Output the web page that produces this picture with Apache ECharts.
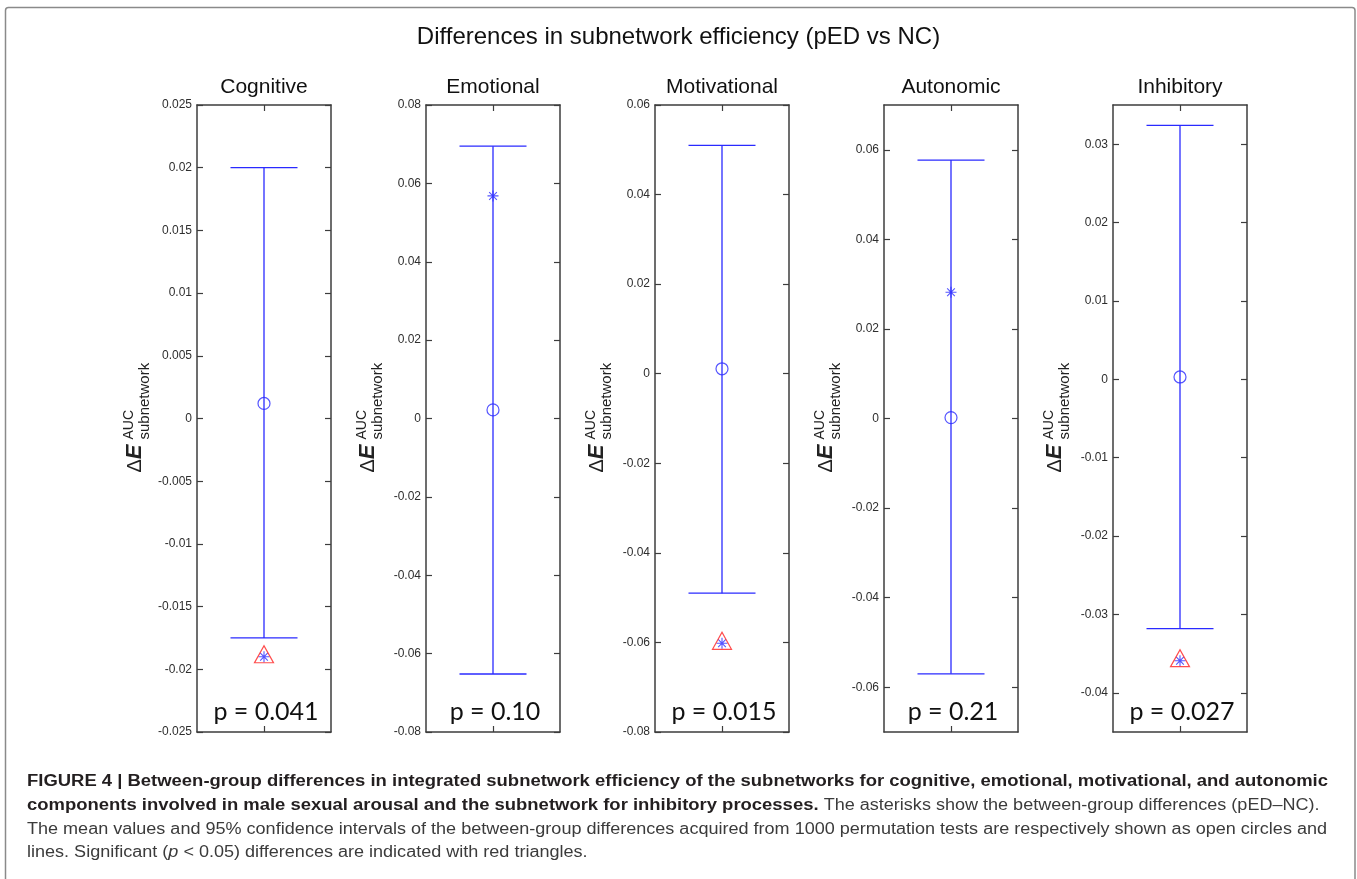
<!DOCTYPE html>
<html>
<head>
<meta charset="utf-8">
<script src="https://cdn.jsdelivr.net/npm/echarts@6/dist/echarts.min.js"></script>
<style>
html,body{margin:0;padding:0;background:#fff;}
#chart{width:1357px;height:879px;}
</style>
</head>
<body>
<div id="chart"></div>
<script>
// ---------- DATA ----------
const categories = ['Cognitive', 'Emotional', 'Motivational', 'Autonomic', 'Inhibitory'];
const ciLower = [-0.0175, -0.0652, -0.0490, -0.0570, -0.0318];
const ciUpper = [0.0200, 0.0695, 0.0510, 0.0577, 0.0324];
const permMean = [0.0012, 0.0022, 0.0011, 0.0002, 0.0003];
const observedDiff = [-0.0190, 0.0568, -0.0602, 0.0282, -0.0359];
const pValues = ['0.041', '0.10', '0.015', '0.21', '0.027'];
const yMin = [-0.025, -0.08, -0.08, -0.07, -0.045];
const yMax = [0.025, 0.08, 0.06, 0.07, 0.035];
const yTicks = [
  [-0.025, -0.02, -0.015, -0.01, -0.005, 0, 0.005, 0.01, 0.015, 0.02, 0.025],
  [-0.08, -0.06, -0.04, -0.02, 0, 0.02, 0.04, 0.06, 0.08],
  [-0.08, -0.06, -0.04, -0.02, 0, 0.02, 0.04, 0.06],
  [-0.06, -0.04, -0.02, 0, 0.02, 0.04, 0.06],
  [-0.04, -0.03, -0.02, -0.01, 0, 0.01, 0.02, 0.03]
];
const mainTitle = 'Differences in subnetwork efficiency (pED vs NC)';
const captionBold1 = 'FIGURE 4 | Between-group differences in integrated subnetwork efficiency of the subnetworks for cognitive, emotional, motivational, and autonomic';
const captionBold2 = 'components involved in male sexual arousal and the subnetwork for inhibitory processes.';
const captionReg2 = 'The asterisks show the between-group differences (pED\u2013NC).';
const captionReg3 = 'The mean values and 95% confidence intervals of the between-group differences acquired from 1000 permutation tests are respectively shown as open circles and';
const captionReg4a = 'lines. Significant (';
const captionItal4 = 'p';
const captionReg4b = ' < 0.05) differences are indicated with red triangles.';

// ---------- LAYOUT / STYLE ----------
const GRID_TOP = 105, GRID_H = 627, GRID_W = 134, GRID_L0 = 197, GRID_STEP = 229;
const LABEL_DX = [-62, -58, -58, -58, -58];
const AXIS_COLOR = '#3d3d3d';
const BLUE = '#2a2aff';
const RED = '#ff2020';
const CAP = 0.5;
const FONT = 'Liberation Sans';

function fmt(v) { return String(Math.round(v * 1e6) / 1e6); }
function measure(text, font) {
  const ctx = document.createElement('canvas').getContext('2d');
  ctx.font = font;
  return ctx.measureText(text).width;
}

const chart = echarts.init(document.getElementById('chart'), null, { renderer: 'canvas' });

const grids = [], xAxes = [], yAxes = [], series = [], titles = [], graphics = [];

titles.push({
  text: mainTitle, left: 'center', top: 25, padding: 0,
  textStyle: { fontFamily: FONT, fontSize: 24, fontWeight: 'normal', color: '#111' }
});

const asteriskPath = 'path://M10,0L10,20M0,10L20,10M3,3L17,17M3,17L17,3';

categories.forEach((name, i) => {
  const left = GRID_L0 + i * GRID_STEP;
  const cx = left + GRID_W / 2;
  grids.push({ left: left, top: GRID_TOP, width: GRID_W, height: GRID_H, containLabel: false });

  const lineStyle = { color: AXIS_COLOR, width: 1.5 };
  const tickStyle = { color: AXIS_COLOR, width: 1.2 };
  xAxes.push({
    type: 'value', gridIndex: i, position: 'bottom', min: -1, max: 1,
    axisLine: { show: true, onZero: false, lineStyle: lineStyle },
    axisTick: { show: true, inside: true, length: 6, customValues: [0], lineStyle: tickStyle },
    axisLabel: { show: false }, splitLine: { show: false }
  });
  xAxes.push({
    type: 'value', gridIndex: i, position: 'top', min: -1, max: 1,
    axisLine: { show: true, onZero: false, lineStyle: lineStyle },
    axisTick: { show: true, inside: true, length: 6, customValues: [0], lineStyle: tickStyle },
    axisLabel: { show: false }, splitLine: { show: false }
  });
  yAxes.push({
    type: 'value', gridIndex: i, position: 'left', min: yMin[i], max: yMax[i],
    axisLine: { show: true, onZero: false, lineStyle: lineStyle },
    axisTick: { show: true, inside: true, length: 6, customValues: yTicks[i], lineStyle: tickStyle },
    axisLabel: {
      show: true, customValues: yTicks[i], formatter: fmt, margin: 5,
      fontFamily: FONT, fontSize: 12, color: '#2e2e2e'
    },
    splitLine: { show: false }
  });
  yAxes.push({
    type: 'value', gridIndex: i, position: 'right', min: yMin[i], max: yMax[i],
    axisLine: { show: true, onZero: false, lineStyle: lineStyle },
    axisTick: { show: true, inside: true, length: 6, customValues: yTicks[i], lineStyle: tickStyle },
    axisLabel: { show: false }, splitLine: { show: false }
  });

  const xi = 2 * i, yi = 2 * i;

  series.push({
    type: 'custom', name: name + ' CI', xAxisIndex: xi, yAxisIndex: yi, silent: true,
    encode: { x: 0, y: [1, 2] },
    data: [[0, ciLower[i], ciUpper[i]]],
    renderItem: function (params, api) {
      const x = api.value(0), lo = api.value(1), hi = api.value(2);
      const pHi = api.coord([x, hi]), pLo = api.coord([x, lo]);
      const a1 = api.coord([x - CAP, hi]), a2 = api.coord([x + CAP, hi]);
      const b1 = api.coord([x - CAP, lo]), b2 = api.coord([x + CAP, lo]);
      const st = { stroke: BLUE, lineWidth: 1.3, fill: null };
      return {
        type: 'group', children: [
          { type: 'line', shape: { x1: pHi[0], y1: pHi[1], x2: pLo[0], y2: pLo[1] }, style: st },
          { type: 'line', shape: { x1: a1[0], y1: a1[1], x2: a2[0], y2: a2[1] }, style: st },
          { type: 'line', shape: { x1: b1[0], y1: b1[1], x2: b2[0], y2: b2[1] }, style: st }
        ]
      };
    }
  });
  series.push({
    type: 'scatter', name: name + ' mean', xAxisIndex: xi, yAxisIndex: yi, silent: true,
    data: [[0, permMean[i]]], symbol: 'circle', symbolSize: 12,
    itemStyle: { color: 'rgba(0,0,0,0)', borderColor: BLUE, borderWidth: 1.2 }
  });
  series.push({
    type: 'scatter', name: name + ' observed', xAxisIndex: xi, yAxisIndex: yi, silent: true,
    data: [[0, observedDiff[i]]], symbol: asteriskPath, symbolSize: 11,
    itemStyle: { color: 'rgba(0,0,0,0)', borderColor: BLUE, borderWidth: 1.1 }
  });
  if (parseFloat(pValues[i]) < 0.05) {
    series.push({
      type: 'scatter', name: name + ' significant', xAxisIndex: xi, yAxisIndex: yi, silent: true,
      data: [[0, observedDiff[i]]], symbol: 'triangle', symbolSize: [19, 17], symbolOffset: [0, -2.5],
      itemStyle: { color: 'rgba(0,0,0,0)', borderColor: RED, borderWidth: 1.2 }
    });
  }

  titles.push({
    text: name, left: cx, top: 77, padding: 0, textAlign: 'center',
    textStyle: { fontFamily: FONT, fontSize: 21, fontWeight: 'normal', color: '#111' }
  });

  graphics.push({
    type: 'text', x: cx + 2, y: GRID_TOP + GRID_H - 20, silent: true,
    style: { text: 'p = ' + pValues[i], fontFamily: 'Lato', fontSize: 25, fill: '#111',
             align: 'center', verticalAlign: 'middle' }
  });

  graphics.push({
    type: 'group', x: left + LABEL_DX[i], y: GRID_TOP + GRID_H / 2, rotation: Math.PI / 2, silent: true,
    children: [
      { type: 'text', x: -54, y: 0, style: {
          text: '{d|\u0394}{e|E}', verticalAlign: 'middle', fill: '#222',
          rich: { d: { fontFamily: FONT, fontSize: 20, fill: '#222' },
                  e: { fontFamily: FONT, fontSize: 22, fontWeight: 'bold', fontStyle: 'italic', fill: '#222' } } } },
      { type: 'text', x: -21, y: -6, style: { text: 'AUC', fontFamily: FONT, fontSize: 14, fill: '#222', verticalAlign: 'middle' } },
      { type: 'text', x: -21, y: 10, style: { text: 'subnetwork', fontFamily: FONT, fontSize: 15, fill: '#222', verticalAlign: 'middle' } }
    ]
  });
});

graphics.push({
  type: 'rect', silent: true, z: -1,
  shape: { x: 5.5, y: 7.5, width: 1349.5, height: 900, r: 3 },
  style: { fill: null, stroke: '#8a8a8a', lineWidth: 1.5 }
});

const CAP_X = 27, CAP_FS = 16;
const boldFont = 'bold ' + CAP_FS + 'px "' + FONT + '"';
const regFont = CAP_FS + 'px "' + FONT + '"';
const itFont = 'italic ' + CAP_FS + 'px "' + FONT + '"';
const sxB = 1301 / measure(captionBold1, boldFont);
const sxR = 1300 / measure(captionReg3, regFont);
const BOLD_COL = '#231f20', REG_COL = '#3b3b3b';
function capText(text, x, y, weight, style, sx, color) {
  graphics.push({
    type: 'text', x: x, y: y, scaleX: sx, silent: true,
    style: { text: text, fontFamily: FONT, fontSize: CAP_FS, fontWeight: weight, fontStyle: style,
             fill: color, align: 'left', verticalAlign: 'middle' }
  });
}
const LY = [782, 806, 830, 853];
capText(captionBold1, CAP_X, LY[0], 'bold', 'normal', sxB, BOLD_COL);
capText(captionBold2, CAP_X, LY[1], 'bold', 'normal', sxB, BOLD_COL);
const b2w = measure(captionBold2 + ' ', boldFont) * sxB;
capText(captionReg2, CAP_X + b2w, LY[1], 'normal', 'normal', sxR, REG_COL);
capText(captionReg3, CAP_X, LY[2], 'normal', 'normal', sxR, REG_COL);
capText(captionReg4a, CAP_X, LY[3], 'normal', 'normal', sxR, REG_COL);
const w4a = measure(captionReg4a, regFont) * sxR;
capText(captionItal4, CAP_X + w4a, LY[3], 'normal', 'italic', sxR, REG_COL);
const w4p = measure(captionItal4, itFont) * sxR;
capText(captionReg4b, CAP_X + w4a + w4p, LY[3], 'normal', 'normal', sxR, REG_COL);

chart.setOption({
  animation: false,
  backgroundColor: '#ffffff',
  title: titles,
  grid: grids,
  xAxis: xAxes,
  yAxis: yAxes,
  series: series,
  graphic: graphics
});
</script>
</body>
</html>
